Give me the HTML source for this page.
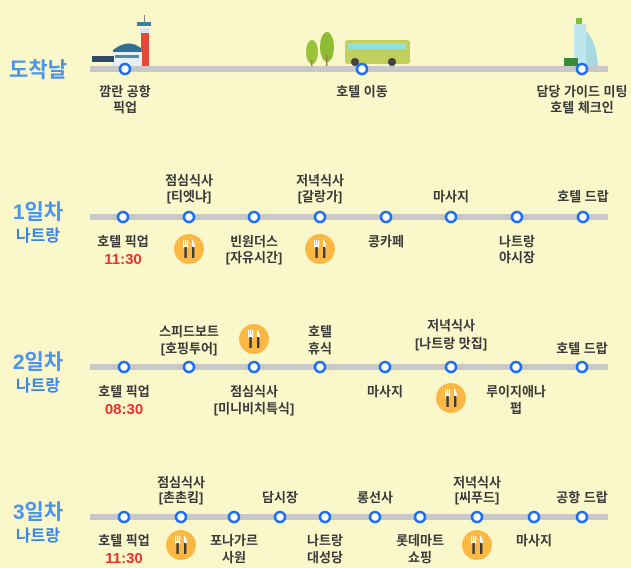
<!DOCTYPE html>
<html><head><meta charset="utf-8"><style>
html,body{margin:0;padding:0;background:#faf8cb;}
svg{display:block}
text{font-family:"Liberation Sans","Noto Sans CJK KR",sans-serif;font-weight:bold;}
.l{font-size:13px;fill:#3a3a3a;text-anchor:middle}
.r{font-size:15px;fill:#f0302a;text-anchor:middle}
.t{font-size:21px;fill:#4a93ef;text-anchor:middle}
.s{font-size:16px;fill:#3a85e6;text-anchor:middle}
</style></head><body>
<svg width="631" height="568" viewBox="0 0 631 568" xmlns="http://www.w3.org/2000/svg">
<defs>
<g id="n"><circle r="5" fill="#fff" stroke="#1b6ff0" stroke-width="2.6"/></g>
<g id="f"><circle r="15" fill="#fbb845"/>
<rect x="-6" y="-9" width="1.2" height="6" fill="#fff"/><rect x="-4" y="-9" width="1.2" height="6" fill="#fff"/><rect x="-2" y="-9" width="1.2" height="6" fill="#fff"/>
<rect x="-6" y="-4" width="5.2" height="3" rx="1" fill="#fff"/>
<rect x="-4.6" y="-2" width="2.4" height="11" fill="#3b3b3b"/>
<path d="M3 -10 Q6 -7 6 -1 L3 -1 Z" fill="#fff"/>
<rect x="3" y="-2" width="2.4" height="11" fill="#3b3b3b"/></g>
</defs>

<!-- Row 0 -->
<text class="t" x="38" y="77">도착날</text>
<!-- airport -->
<rect x="137" y="22" width="14" height="4" fill="#3c7fa0"/>
<rect x="140" y="28" width="9" height="5" fill="#dbe4ea"/>
<rect x="141" y="33" width="8" height="33" fill="#e5483a"/>
<rect x="144" y="15" width="1" height="7" fill="#888"/>
<path d="M113 66 L113 50 Q128 38 141 48 L141 66 Z" fill="#2f6f95"/>
<rect x="112" y="52" width="30" height="14" fill="#e9eef2"/>
<rect x="115" y="55" width="24" height="3" fill="#4a8fb0"/>
<rect x="92" y="56" width="22" height="6" fill="#2e4a68"/>
<!-- trees -->
<ellipse cx="312" cy="52" rx="6" ry="12" fill="#9bc23b"/><rect x="311" y="60" width="1.5" height="8" fill="#a07a4a"/>
<ellipse cx="327" cy="47" rx="7" ry="15" fill="#8fbc35"/><rect x="326" y="55" width="1.5" height="13" fill="#a07a4a"/>
<!-- bus -->
<rect x="345" y="40" width="65" height="24" rx="3" fill="#c1cf5c"/>
<rect x="348" y="43" width="58" height="6" fill="#8fe3dc"/>
<circle cx="355" cy="62" r="4" fill="#444"/><circle cx="392" cy="62" r="4" fill="#444"/>
<!-- hotel -->
<path d="M574 24 Q596 30 598 66 L574 66 Z" fill="#a8d8e0"/>
<rect x="574" y="24" width="12" height="42" fill="#bfe6ec"/>
<rect x="576" y="18" width="6" height="6" fill="#7bbf3b"/>
<rect x="564" y="58" width="14" height="8" fill="#3b8a3a"/>

<rect x="90" y="66" width="518" height="6" fill="#c8c8c8"/>
<use href="#n" x="125" y="69"/><use href="#n" x="362" y="69"/><use href="#n" x="582" y="69"/>
<text class="l" x="125" y="96">깜란 공항</text><text class="l" x="125" y="112">픽업</text>
<text class="l" x="362" y="96">호텔 이동</text>
<text class="l" x="582" y="96">담당 가이드 미팅</text><text class="l" x="582" y="112">호텔 체크인</text>

<!-- Row 1 -->
<text class="t" x="38" y="219">1일차</text><text class="s" x="38" y="241">나트랑</text>
<rect x="90" y="214" width="518" height="6" fill="#c8c8c8"/>
<use href="#n" x="123" y="217"/><use href="#n" x="189" y="217"/><use href="#n" x="254" y="217"/><use href="#n" x="320" y="217"/><use href="#n" x="386" y="217"/><use href="#n" x="451" y="217"/><use href="#n" x="517" y="217"/><use href="#n" x="583" y="217"/>
<text class="l" x="189" y="185">점심식사</text><text class="l" x="189" y="201">[티엣냐]</text>
<text class="l" x="320" y="185">저녁식사</text><text class="l" x="320" y="201">[갈랑가]</text>
<text class="l" x="451" y="201">마사지</text>
<text class="l" x="583" y="201">호텔 드랍</text>
<text class="l" x="123" y="246">호텔 픽업</text><text class="r" x="123" y="264">11:30</text>
<use href="#f" x="189" y="249"/>
<text class="l" x="254" y="246">빈원더스</text><text class="l" x="254" y="262">[자유시간]</text>
<use href="#f" x="320" y="249"/>
<text class="l" x="386" y="246">콩카페</text>
<text class="l" x="517" y="246">나트랑</text><text class="l" x="517" y="262">야시장</text>

<!-- Row 2 -->
<text class="t" x="38" y="369">2일차</text><text class="s" x="38" y="391">나트랑</text>
<rect x="90" y="364" width="518" height="6" fill="#c8c8c8"/>
<use href="#n" x="124" y="367"/><use href="#n" x="189" y="367"/><use href="#n" x="254" y="367"/><use href="#n" x="320" y="367"/><use href="#n" x="385" y="367"/><use href="#n" x="451" y="367"/><use href="#n" x="516" y="367"/><use href="#n" x="582" y="367"/>
<text class="l" x="189" y="336">스피드보트</text><text class="l" x="189" y="353">[호핑투어]</text>
<use href="#f" x="254" y="339"/>
<text class="l" x="320" y="336">호텔</text><text class="l" x="320" y="353">휴식</text>
<text class="l" x="451" y="330">저녁식사</text><text class="l" x="451" y="348">[나트랑 맛집]</text>
<text class="l" x="582" y="353">호텔 드랍</text>
<text class="l" x="124" y="396">호텔 픽업</text><text class="r" x="124" y="414">08:30</text>
<text class="l" x="254" y="396">점심식사</text><text class="l" x="254" y="413">[미니비치특식]</text>
<text class="l" x="385" y="396">마사지</text>
<use href="#f" x="451" y="398"/>
<text class="l" x="516" y="396">루이지애나</text><text class="l" x="516" y="413">펍</text>

<!-- Row 3 -->
<text class="t" x="38" y="519">3일차</text><text class="s" x="38" y="541">나트랑</text>
<rect x="90" y="514" width="518" height="6" fill="#c8c8c8"/>
<use href="#n" x="124" y="517"/><use href="#n" x="181" y="517"/><use href="#n" x="234" y="517"/><use href="#n" x="280" y="517"/><use href="#n" x="325" y="517"/><use href="#n" x="375" y="517"/><use href="#n" x="420" y="517"/><use href="#n" x="477" y="517"/><use href="#n" x="534" y="517"/><use href="#n" x="582" y="517"/>
<text class="l" x="181" y="487">점심식사</text><text class="l" x="181" y="502">[촌촌킴]</text>
<text class="l" x="280" y="502">담시장</text>
<text class="l" x="375" y="502">롱선사</text>
<text class="l" x="477" y="487">저녁식사</text><text class="l" x="477" y="502">[씨푸드]</text>
<text class="l" x="582" y="502">공항 드랍</text>
<text class="l" x="124" y="545">호텔 픽업</text><text class="r" x="124" y="563">11:30</text>
<use href="#f" x="181" y="545"/>
<text class="l" x="234" y="545">포나가르</text><text class="l" x="234" y="562">사원</text>
<text class="l" x="325" y="545">나트랑</text><text class="l" x="325" y="562">대성당</text>
<text class="l" x="420" y="545">롯데마트</text><text class="l" x="420" y="562">쇼핑</text>
<use href="#f" x="477" y="545"/>
<text class="l" x="534" y="545">마사지</text>
</svg>
</body></html>
